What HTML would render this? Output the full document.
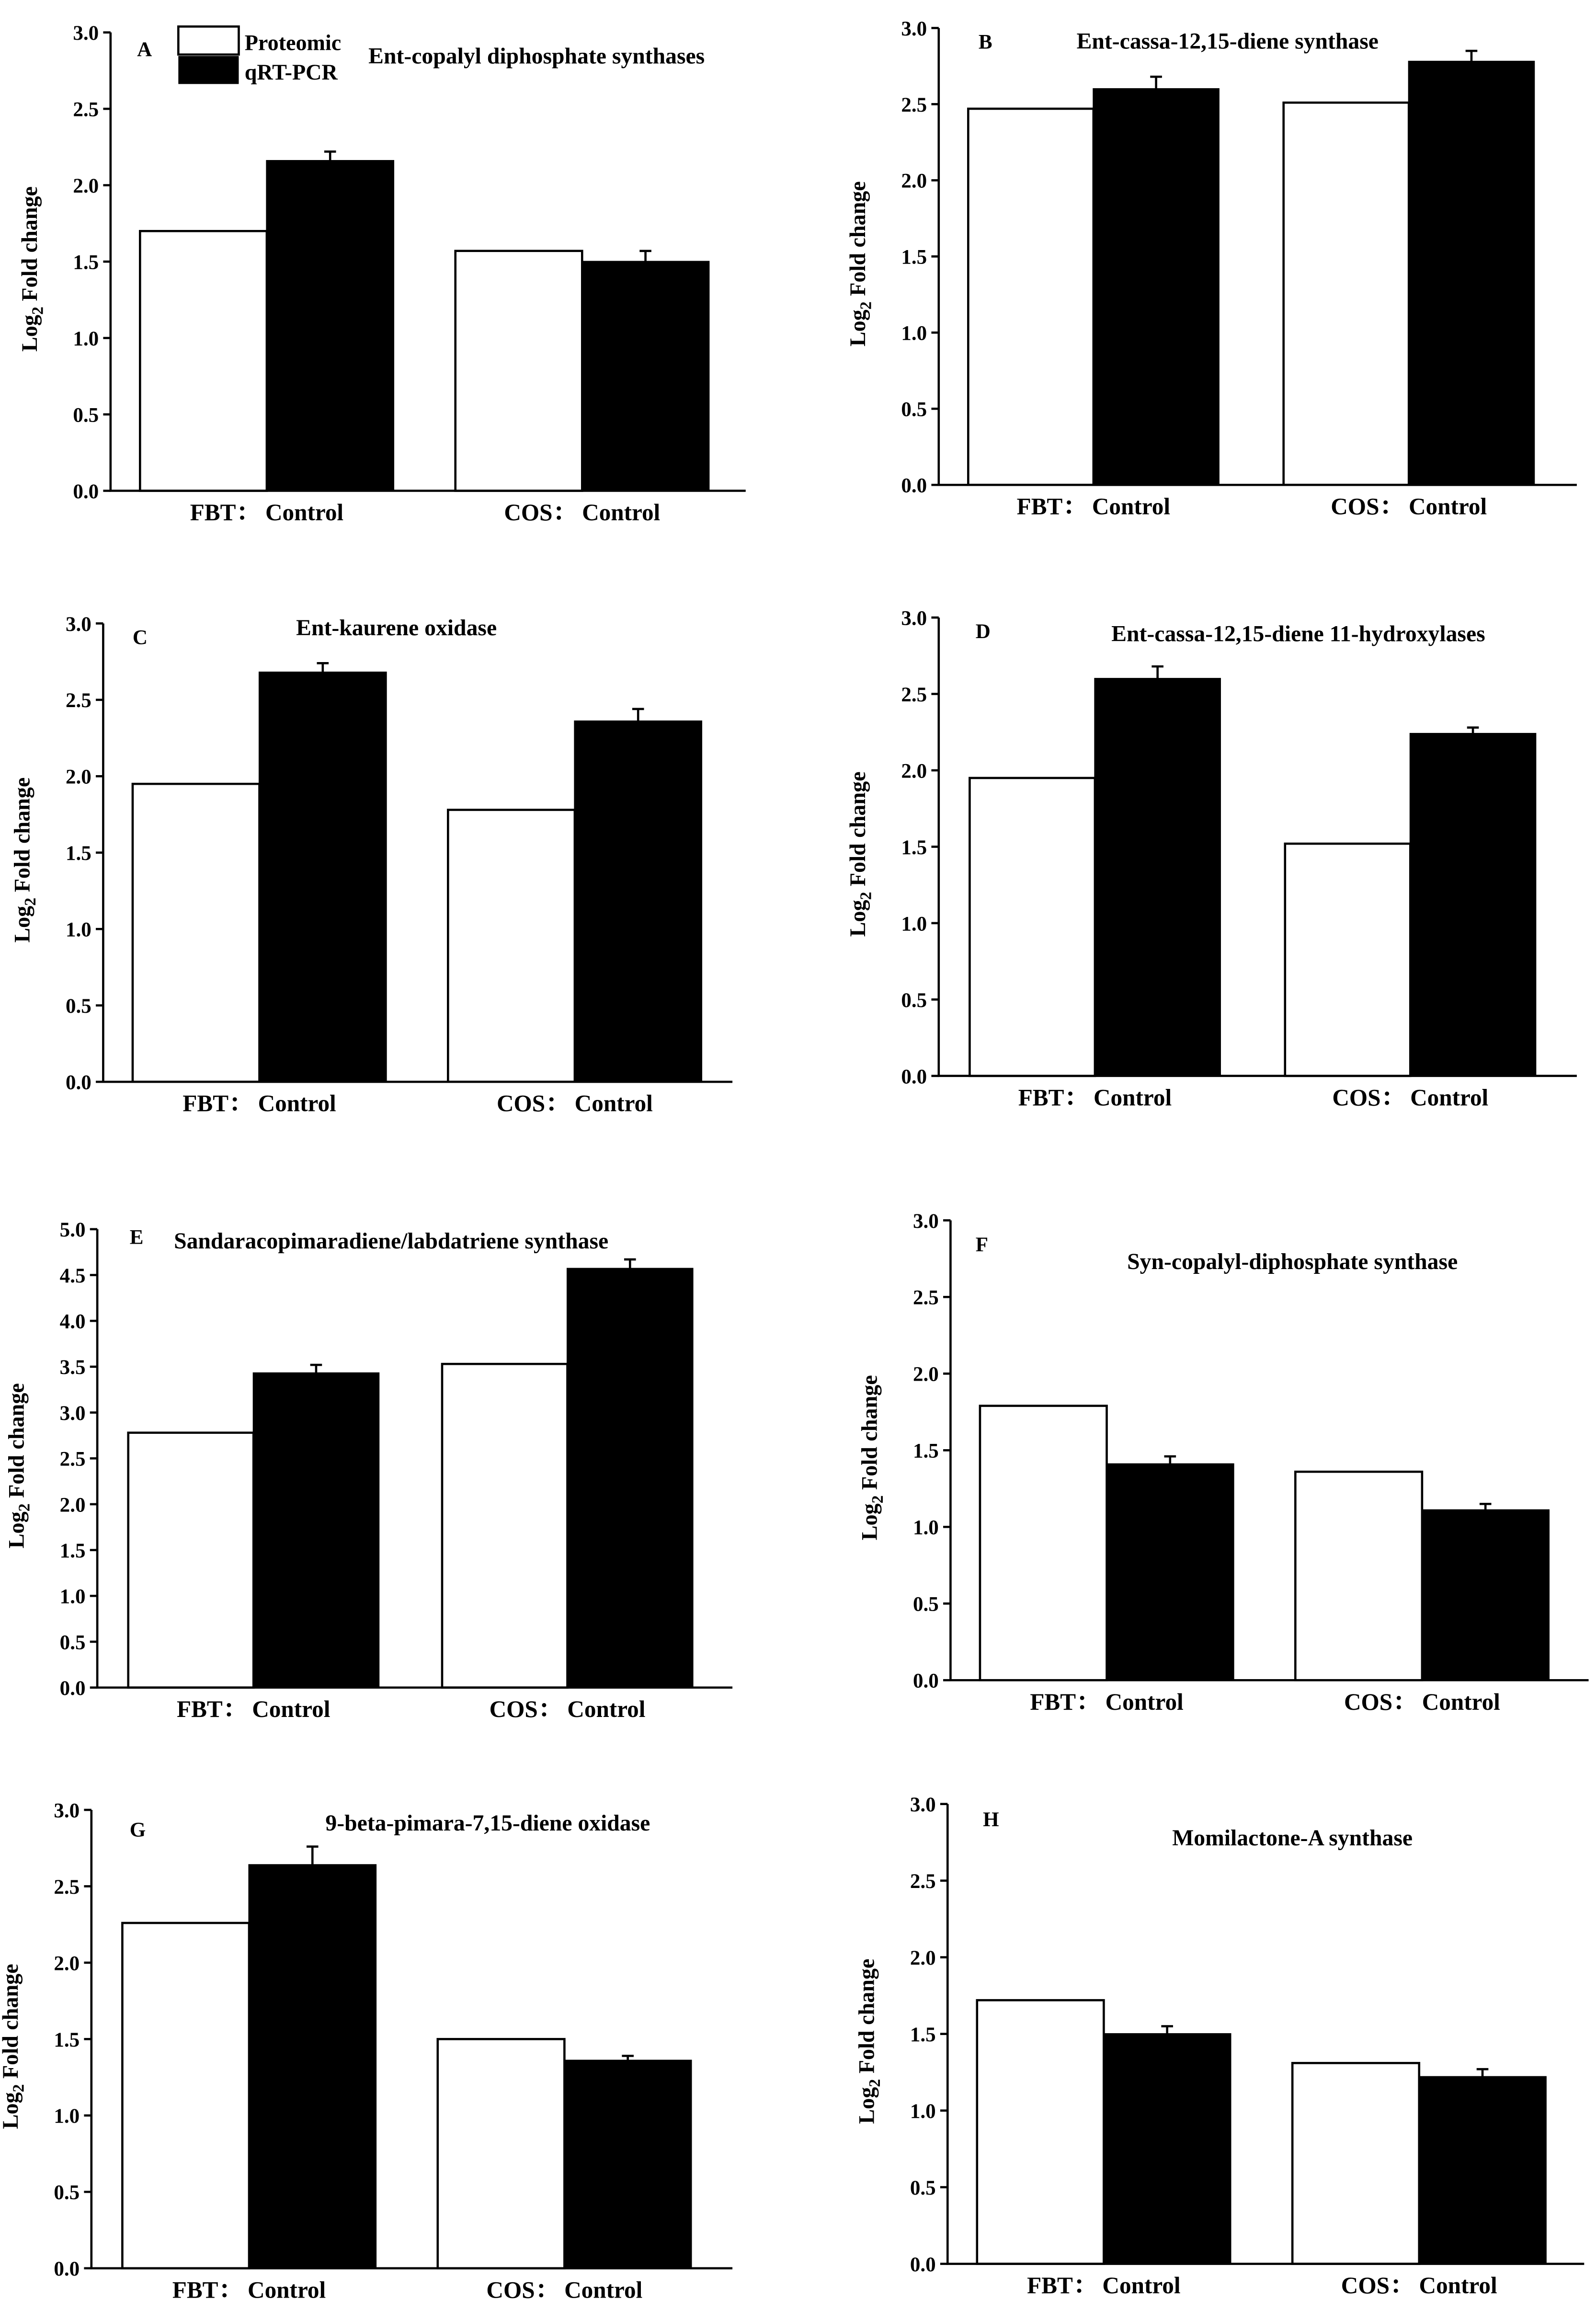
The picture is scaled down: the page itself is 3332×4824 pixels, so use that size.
<!DOCTYPE html>
<html><head><meta charset="utf-8">
<style>
html,body{margin:0;padding:0;background:#fff;}
svg{display:block;}
text{font-family:"Liberation Serif","Noto Serif CJK SC",serif;font-weight:bold;fill:#000;}
</style></head>
<body>
<svg id="fig" width="3332" height="4824" viewBox="0 0 1083 1568" xmlns="http://www.w3.org/2000/svg"></svg>
<script>
const panelLetters = ["A","B","C","D","E","F","G","H"];
const panelTitles = ["Ent-copalyl diphosphate synthases","Ent-cassa-12,15-diene synthase","Ent-kaurene oxidase","Ent-cassa-12,15-diene 11-hydroxylases","Sandaracopimaradiene/labdatriene synthase","Syn-copalyl-diphosphate synthase","9-beta-pimara-7,15-diene oxidase","Momilactone-A synthase"];
const categories = ["FBT\uFF1A Control","COS\uFF1A Control"];
const proteomicValues = [[1.70,1.57],[2.47,2.51],[1.95,1.78],[1.95,1.52],[2.78,3.53],[1.79,1.36],[2.26,1.50],[1.72,1.31]];
const qpcrValues = [[2.16,1.50],[2.60,2.78],[2.68,2.36],[2.60,2.24],[3.43,4.57],[1.41,1.11],[2.64,1.36],[1.50,1.22]];
const qpcrErrors = [[0.06,0.07],[0.08,0.07],[0.06,0.08],[0.08,0.04],[0.09,0.10],[0.05,0.04],[0.12,0.03],[0.05,0.05]];
const yMaxValues = [3,3,3,3,5,3,3,3];
const yTickLabels = [["0.0","0.5","1.0","1.5","2.0","2.5","3.0"],["0.0","0.5","1.0","1.5","2.0","2.5","3.0","3.5","4.0","4.5","5.0"]];

// layout (not data)
const layout = [
 {ax:75, y0:333, yt:22, xe:506, g:[95,309], bw:86, lx:93, ly:38, tx:250, ty:43, anchor:"start"},
 {ax:637, y0:329, yt:19, xe:1070, g:[657,871], bw:85, lx:664, ly:33, tx:833, ty:33, anchor:"middle"},
 {ax:70, y0:734, yt:423, xe:497, g:[90,304], bw:86, lx:90, ly:437, tx:269, ty:431, anchor:"middle"},
 {ax:637, y0:730, yt:419, xe:1070, g:[658,872], bw:85, lx:662, ly:433, tx:881, ty:435, anchor:"middle"},
 {ax:66, y0:1145, yt:834, xe:497, g:[87,300], bw:85, lx:88, ly:844, tx:118, ty:847, anchor:"start"},
 {ax:645, y0:1140, yt:828, xe:1078, g:[665,879], bw:86, lx:662, ly:849, tx:877, ty:861, anchor:"middle"},
 {ax:62, y0:1539, yt:1228, xe:497, g:[83,297], bw:86, lx:88, ly:1246, tx:331, ty:1242, anchor:"middle"},
 {ax:643, y0:1536, yt:1224, xe:1075, g:[663,877], bw:86, lx:667, ly:1239, tx:877, ty:1252, anchor:"middle"}
];
const NS="http://www.w3.org/2000/svg";
const svg=document.getElementById('fig');
function mk(tag,attrs,parent){const e=document.createElementNS(NS,tag);for(const k in attrs)e.setAttribute(k,attrs[k]);(parent||svg).appendChild(e);return e;}

panelLetters.forEach((letter,p)=>{
  const L=layout[p];
  const g=mk('g',{});
  
  
  const ymax=yMaxValues[p];
  const yScale=v=>L.y0-(v/ymax)*(L.y0-L.yt);
  for(let c=0;c<2;c++){
    const x0=L.g[c];
    const pv=proteomicValues[p][c], qv=qpcrValues[p][c], ev=qpcrErrors[p][c];
    const r1=mk('rect',{x:x0,y:yScale(pv),width:L.bw,height:L.y0-yScale(pv),fill:'#fff',stroke:'#000','stroke-width':1.5},g);
    
    
    const r2=mk('rect',{x:x0+L.bw,y:yScale(qv),width:L.bw,height:L.y0-yScale(qv),fill:'#000',stroke:'#000','stroke-width':1},g);
    
    
    const cx=x0+L.bw*1.5;
    const eb=mk('path',{d:`M${cx},${yScale(qv)} V${yScale(qv+ev)} M${cx-4},${yScale(qv+ev)} H${cx+4}`,stroke:'#000','stroke-width':1.5,fill:'none'},g);
    
    
    const xl=mk('text',{x:x0+L.bw,y:L.y0+20,'text-anchor':'middle','font-size':16},g);
    xl.textContent=categories[c];
    
    
  }
  const axes=mk('path',{d:`M${L.ax},${L.yt} V${L.y0} H${L.xe}`,stroke:'#000','stroke-width':1.5,fill:'none'},g);
  
  
  const labels=yTickLabels[ymax===5?1:0];
  labels.forEach((lab,i)=>{
    const y=yScale(i*0.5);
    mk('line',{x1:L.ax-5,x2:L.ax,y1:y,y2:y,stroke:'#000','stroke-width':1.5},g);
    const t=mk('text',{x:L.ax-8,y:y+5,'text-anchor':'end','font-size':14},g);
    t.textContent=lab;
    
    
  });
  const ymid=(L.y0+L.yt)/2+5;
  const yt=mk('text',{x:0,y:0,'text-anchor':'middle','font-size':15,transform:`translate(${L.ax-50},${ymid}) rotate(-90)`},g);
  yt.innerHTML='Log<tspan font-size="11" dy="4">2</tspan><tspan dy="-4"> Fold change</tspan>';
  
  
  const lt=mk('text',{x:L.lx,y:L.ly,'font-size':14},g);
  lt.textContent=letter;
  
  
  const tt=mk('text',{x:L.tx,y:L.ty,'text-anchor':L.anchor,'font-size':15.5},g);
  tt.textContent=panelTitles[p];
  
  
});
const lg=mk('g',{});


const l1=mk('rect',{x:121,y:18,width:41,height:19,fill:'#fff',stroke:'#000','stroke-width':1.5},lg);


const l2=mk('rect',{x:121,y:38,width:41,height:19,fill:'#000'},lg);


const t1=mk('text',{x:166,y:34,'font-size':15},lg);
t1.textContent='Proteomic';


const t2=mk('text',{x:166,y:54,'font-size':15},lg);
t2.textContent='qRT-PCR';


</script>
</body></html>
